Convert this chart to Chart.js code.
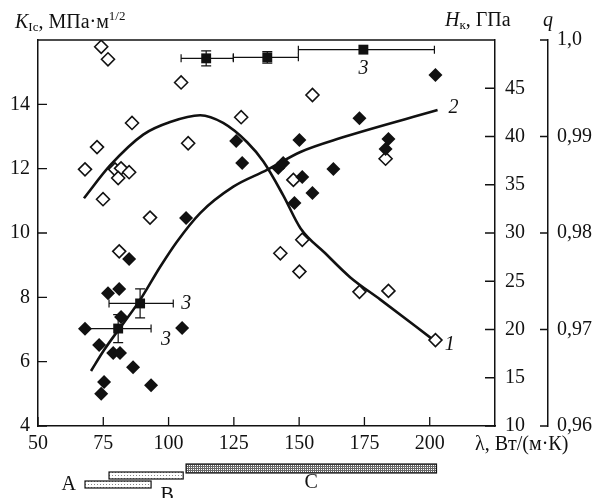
<!DOCTYPE html>
<html>
<head>
<meta charset="utf-8">
<script src="https://cdn.jsdelivr.net/npm/chart.js@4.4.0/dist/chart.umd.min.js"></script>
<style>
  html, body { margin: 0; padding: 0; background: #fff; }
</style>
</head>
<body>
<canvas id="chart" width="609" height="498"></canvas>
<script>
// open diamonds - hardness Hk, GPa (right axis)
var hardLambda = [74.2, 76.8, 104.8, 86.0, 72.6, 68.0, 79.5, 81.8, 80.7, 84.9, 74.9, 92.9, 81.1,
                  107.5, 127.8, 155.1, 147.8, 183.1, 151.2, 142.8, 150.1, 173.1, 184.2, 202.2];
var hardValues = [49.3, 48.0, 45.6, 41.4, 38.9, 36.6, 36.6, 36.7, 35.7, 36.3, 33.5, 31.6, 28.1,
                  39.3, 42.0, 44.3, 35.5, 37.7, 29.3, 27.9, 26.0, 23.9, 24.0, 18.9];

// filled diamonds - K1c, MPa*m^1/2 (left axis)
var toughLambda = [106.7, 84.9, 76.8, 81.1, 68.0, 81.8, 105.2, 73.4, 78.8, 81.4, 86.4, 75.3, 74.2, 93.3,
                   125.9, 128.2, 142.0, 143.9, 151.2, 148.2, 155.1, 150.1, 163.1, 173.1, 202.2, 184.2, 183.1];
var toughValues = [10.47, 9.19, 8.13, 8.26, 7.02, 7.39, 7.05, 6.52, 6.27, 6.27, 5.83, 5.37, 5.00, 5.27,
                   12.86, 12.18, 12.02, 12.18, 11.74, 10.93, 11.24, 12.89, 11.99, 13.57, 14.91, 12.92, 12.61];

// curve 1 (hardness trend) and curve 2 (toughness trend)
var curve1Lambda = [67.6, 77.6, 90.3, 100.6, 112.1, 120.9, 130.1, 136.3, 143.9, 150.5, 160.0, 169.6, 181.1, 201.5];
var curve1Values = [33.6, 37.0, 40.2, 41.5, 42.2, 41.4, 39.4, 37.4, 33.9, 30.5, 27.9, 25.4, 23.1, 18.9];
var curve2Lambda = [70.3, 75.3, 89.1, 96.8, 103.2, 112.1, 124.8, 137.7, 150.5, 165.8, 203.0];
var curve2Values = [5.71, 6.36, 7.92, 8.95, 9.73, 10.62, 11.44, 11.96, 12.52, 12.95, 13.82];

// squares (3) - relative density q with error bars
var densLambda = [89.1, 80.7, 114.4, 137.8, 174.6];
var densValues = [0.9727, 0.9701, 0.9981, 0.9982, 0.9990];
var densLambdaLo = [77.2, 68.4, 104.8, 124.8, 149.7];
var densLambdaHi = [101.8, 93.3, 124.8, 149.7, 201.8];
var densErr = [0.0015, 0.00145, 0.00078, 0.0006, 0];

// lambda ranges of the materials under the axis
var rangeLabels = ['A', 'B', 'C'];
var rangeFrom = [68.0, 77.2, 106.7];
var rangeTo = [93.3, 105.6, 202.6];

// ticks
var xTicks = [50, 75, 100, 125, 150, 175, 200];
var kTicks = [4, 6, 8, 10, 12, 14];
var hTicks = [10, 15, 20, 25, 30, 35, 40, 45];
var qTicks = [0.96, 0.97, 0.98, 0.99, 1.0];
var qTickLabels = ['0,96', '0,97', '0,98', '0,99', '1,0'];

var SERIF = 'Liberation Serif';
var INK = '#111';

function pts(xs, ys) {
    return xs.map(function (x, i) { return { x: x, y: ys[i] }; });
}

function setTicks(list) {
    return function (scale) {
        scale.ticks = list.map(function (v) { return { value: v }; });
    };
}

var ctx = document.getElementById('chart').getContext('2d');

function makeDots() {
    var c = document.createElement('canvas');
    c.width = 3; c.height = 3;
    var g = c.getContext('2d');
    g.fillStyle = '#fff'; g.fillRect(0, 0, 3, 3);
    g.fillStyle = '#888'; g.fillRect(1, 1, 1, 1);
    return ctx.createPattern(c, 'repeat');
}
function makeGrid() {
    var c = document.createElement('canvas');
    c.width = 2; c.height = 2;
    var g = c.getContext('2d');
    g.fillStyle = '#666'; g.fillRect(0, 0, 2, 2);
    g.fillStyle = '#fff'; g.fillRect(1, 1, 1, 1);
    return ctx.createPattern(c, 'repeat');
}

// draw a line of text made of pieces (italic letter, subscript, superscript)
function richText(c, x, y, parts) {
    c.textAlign = 'left';
    c.textBaseline = 'alphabetic';
    parts.forEach(function (p) {
        c.font = p[1];
        c.fillText(p[0], x, y + (p[2] || 0));
        x += c.measureText(p[0]).width;
    });
}

var decor = {
    id: 'decor',
    afterDatasetsDraw: function (chart) {
        var c = chart.ctx, x = chart.scales.x, q = chart.scales.yQ;
        c.save();
        c.strokeStyle = INK;
        c.lineWidth = 1.2;
        densLambda.forEach(function (lam, i) {
            var py = q.getPixelForValue(densValues[i]);
            var x0 = x.getPixelForValue(densLambdaLo[i]);
            var x1 = x.getPixelForValue(densLambdaHi[i]);
            c.beginPath();
            c.moveTo(x0, py); c.lineTo(x1, py);
            c.moveTo(x0, py - 4); c.lineTo(x0, py + 4);
            c.moveTo(x1, py - 4); c.lineTo(x1, py + 4);
            if (densErr[i] > 0) {
                var px = x.getPixelForValue(lam);
                var y0 = q.getPixelForValue(densValues[i] - densErr[i]);
                var y1 = q.getPixelForValue(densValues[i] + densErr[i]);
                c.moveTo(px, y0); c.lineTo(px, y1);
                c.moveTo(px - 5, y0); c.lineTo(px + 5, y0);
                c.moveTo(px - 5, y1); c.lineTo(px + 5, y1);
            }
            c.stroke();
        });
        c.restore();
    },
    afterDraw: function (chart) {
        var c = chart.ctx, a = chart.chartArea, s = chart.scales;
        c.save();
        c.strokeStyle = INK;
        c.fillStyle = INK;
        c.lineWidth = 1.5;

        // top border of the frame
        c.beginPath();
        c.moveTo(a.left, a.top); c.lineTo(a.right, a.top);
        c.stroke();

        // inward tick marks
        c.lineWidth = 1.3;
        c.beginPath();
        xTicks.forEach(function (v) {
            var p = s.x.getPixelForValue(v);
            c.moveTo(p, a.bottom); c.lineTo(p, a.bottom - 9);
        });
        kTicks.forEach(function (v) {
            var p = s.yK.getPixelForValue(v);
            c.moveTo(a.left, p); c.lineTo(a.left + 9, p);
        });
        hTicks.forEach(function (v) {
            var p = s.yH.getPixelForValue(v);
            c.moveTo(a.right, p); c.lineTo(a.right - 10, p);
        });
        qTicks.forEach(function (v) {
            var p = s.yQ.getPixelForValue(v);
            c.moveTo(s.yQ.left, p); c.lineTo(s.yQ.left - 8, p);
        });
        c.stroke();

        // axis titles
        var big = '20px "' + SERIF + '"', it = 'italic 20px "' + SERIF + '"', small = '13px "' + SERIF + '"';
        richText(c, 15, 28, [['K', it], ['Ic', small, 3], [', МПа·м', big], ['1/2', small, -8]]);
        richText(c, 445, 26, [['H', it], ['к', small, 3], [', ГПа', big]]);
        richText(c, 543, 26, [['q', it]]);
        richText(c, 475, 450, [['λ, Вт/(м·К)', big]]);

        // curve and series numbers
        c.font = it;
        c.textBaseline = 'middle';
        c.textAlign = 'left';
        var n1 = curve1Lambda.length - 1, n2 = curve2Lambda.length - 1;
        c.fillText('1', s.x.getPixelForValue(curve1Lambda[n1]) + 11, s.yH.getPixelForValue(curve1Values[n1]) + 5);
        c.fillText('2', s.x.getPixelForValue(curve2Lambda[n2]) + 11, s.yK.getPixelForValue(curve2Values[n2]) - 2);
        c.fillText('3', s.x.getPixelForValue(densLambdaHi[0]) + 8, s.yQ.getPixelForValue(densValues[0]));
        c.fillText('3', s.x.getPixelForValue(densLambdaHi[1]) + 10, s.yQ.getPixelForValue(densValues[1]) + 11);
        c.textAlign = 'center';
        c.fillText('3', s.x.getPixelForValue(densLambda[4]), s.yQ.getPixelForValue(densValues[4]) + 19);

        // material ranges below the axis
        var rowTop = [55, 46, 38], rowH = [7, 7, 9];
        var fills = [makeDots(), makeDots(), makeGrid()];
        c.lineWidth = 1.2;
        rangeLabels.forEach(function (lab, i) {
            var x0 = s.x.getPixelForValue(rangeFrom[i]);
            var x1 = s.x.getPixelForValue(rangeTo[i]);
            var y0 = a.bottom + rowTop[i];
            c.fillStyle = fills[i];
            c.fillRect(x0, y0, x1 - x0, rowH[i]);
            c.strokeRect(x0, y0, x1 - x0, rowH[i]);
        });
        c.fillStyle = INK;
        c.font = big;
        c.textAlign = 'right';
        c.fillText('A', s.x.getPixelForValue(rangeFrom[0]) - 9, a.bottom + 59);
        c.textAlign = 'center';
        c.fillText('B', s.x.getPixelForValue(rangeTo[1]) - 16, a.bottom + 70);
        c.fillText('C', (s.x.getPixelForValue(rangeFrom[2]) + s.x.getPixelForValue(rangeTo[2])) / 2, a.bottom + 57);
        c.restore();
    }
};

var tickFont = { family: SERIF, size: 20 };

new Chart(ctx, {
    type: 'scatter',
    data: {
        datasets: [
            {
                label: '3',
                data: pts(densLambda, densValues),
                yAxisID: 'yQ',
                pointStyle: 'rect',
                pointRadius: 7,
                backgroundColor: INK,
                borderColor: INK,
                borderWidth: 0,
                order: 0
            },
            {
                label: 'K1c',
                data: pts(toughLambda, toughValues),
                yAxisID: 'yK',
                pointStyle: 'rectRot',
                pointRadius: 7,
                backgroundColor: INK,
                borderColor: INK,
                borderWidth: 0,
                order: 1
            },
            {
                label: 'Hk',
                data: pts(hardLambda, hardValues),
                yAxisID: 'yH',
                pointStyle: 'rectRot',
                pointRadius: 6.5,
                backgroundColor: '#fff',
                borderColor: INK,
                borderWidth: 1.6,
                order: 2
            },
            {
                label: '1',
                data: pts(curve1Lambda, curve1Values),
                yAxisID: 'yH',
                showLine: true,
                cubicInterpolationMode: 'monotone',
                pointRadius: 0,
                borderColor: INK,
                borderWidth: 2.6,
                order: 3
            },
            {
                label: '2',
                data: pts(curve2Lambda, curve2Values),
                yAxisID: 'yK',
                showLine: true,
                cubicInterpolationMode: 'monotone',
                pointRadius: 0,
                borderColor: INK,
                borderWidth: 2.6,
                order: 3
            }
        ]
    },
    options: {
        responsive: false,
        animation: false,
        layout: { padding: { top: 40, bottom: 42, left: 0, right: 0 } },
        plugins: {
            legend: { display: false },
            tooltip: { enabled: false }
        },
        scales: {
            x: {
                type: 'linear',
                min: 50,
                max: 225,
                afterBuildTicks: setTicks(xTicks),
                afterFit: function (s) { s.height = 30; },
                grid: { display: false, drawTicks: false },
                border: { display: true, color: INK, width: 1.5 },
                ticks: { font: tickFont, color: INK, padding: 6, maxRotation: 0, autoSkip: false }
            },
            yK: {
                position: 'left',
                min: 4,
                max: 16,
                afterBuildTicks: setTicks(kTicks),
                afterFit: function (s) { s.width = 38; },
                grid: { display: false, drawTicks: false },
                border: { display: true, color: INK, width: 1.5 },
                ticks: { font: tickFont, color: INK, padding: 8, autoSkip: false }
            },
            yH: {
                position: 'right',
                min: 10,
                max: 50,
                weight: 1,
                afterBuildTicks: setTicks(hTicks),
                afterFit: function (s) { s.width = 53; },
                grid: { display: false, drawTicks: false },
                border: { display: true, color: INK, width: 1.5 },
                ticks: { font: tickFont, color: INK, padding: 10, autoSkip: false }
            },
            yQ: {
                position: 'right',
                min: 0.96,
                max: 1.0,
                weight: 2,
                afterBuildTicks: setTicks(qTicks),
                afterFit: function (s) { s.width = 61; },
                grid: { display: false, drawTicks: false },
                border: { display: true, color: INK, width: 1.5 },
                ticks: {
                    font: tickFont, color: INK, padding: 9, autoSkip: false,
                    callback: function (v, i) { return qTickLabels[i]; }
                }
            }
        }
    },
    plugins: [decor]
});
</script>
</body>
</html>
